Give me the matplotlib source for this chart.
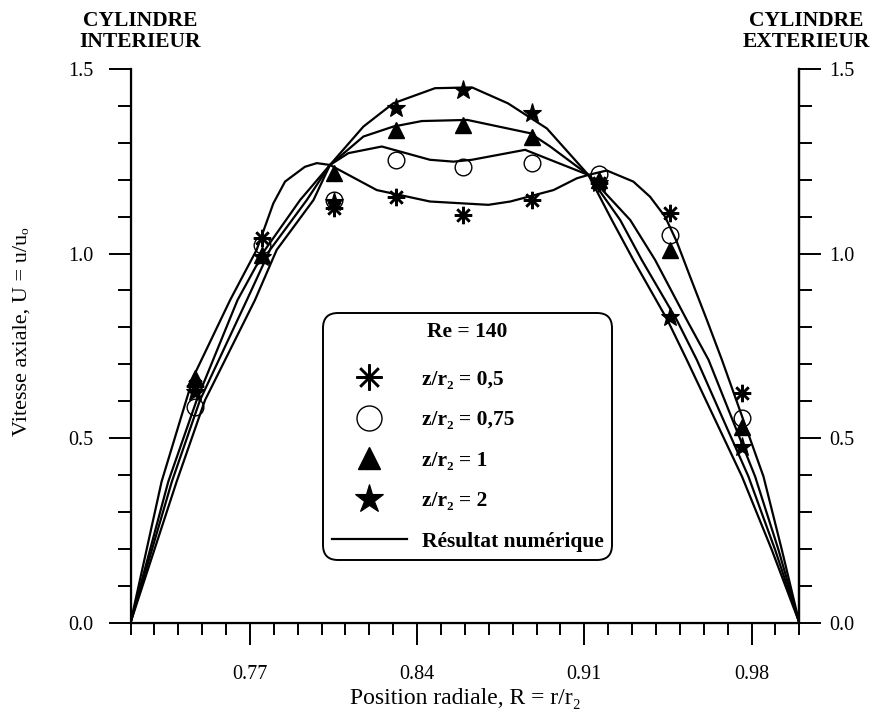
import numpy as np
import matplotlib
matplotlib.use("Agg")
import matplotlib.pyplot as plt
from matplotlib.ticker import FixedLocator, MultipleLocator, FormatStrFormatter
from matplotlib.lines import Line2D

plt.rcParams['font.family'] = ['Liberation Serif', 'DejaVu Serif', 'DejaVu Sans']

# Numerical axial velocity profiles (Re = 140)
r_num_05 = [0.720, 0.733, 0.7463, 0.7617, 0.7728, 0.7798, 0.7847, 0.793, 0.798, 0.8035,
            0.8231, 0.8454, 0.8698, 0.879, 0.8971, 0.9069, 0.9117, 0.9194, 0.9305, 0.9375,
            0.9438, 0.9487, 0.9543, 0.9613, 0.9676, 0.985, 0.9927, 1.0]
u_num_05 = [0.0, 0.382, 0.666, 0.874, 1.01, 1.136, 1.195, 1.235, 1.245, 1.240,
            1.172, 1.141, 1.132, 1.141, 1.172, 1.204, 1.213, 1.225, 1.195, 1.154,
            1.100, 1.032, 0.937, 0.820, 0.712, 0.396, 0.197, 0.0]

r_num_075 = [0.720, 0.7358, 0.7477, 0.7648, 0.7763, 0.791, 0.8035, 0.8112, 0.8252, 0.8454,
             0.8552, 0.8629, 0.8852, 0.8957, 0.9117, 0.9292, 0.9396, 0.9529, 0.962, 0.9815,
             0.9913, 1.0]
u_num_075 = [0.0, 0.382, 0.603, 0.874, 1.01, 1.145, 1.240, 1.272, 1.290, 1.254,
             1.249, 1.254, 1.281, 1.254, 1.213, 1.091, 0.983, 0.820, 0.712, 0.396,
             0.197, 0.0]

r_num_1 = [0.720, 0.7373, 0.7491, 0.7687, 0.7784, 0.7938, 0.8035, 0.8175, 0.830, 0.842,
           0.861, 0.8873, 0.8957, 0.9117, 0.925, 0.934, 0.9487, 0.9571, 0.9787, 0.9899, 1.0]
u_num_1 = [0.0, 0.382, 0.603, 0.874, 1.01, 1.145, 1.240, 1.317, 1.344, 1.359,
           1.362, 1.326, 1.290, 1.213, 1.091, 0.983, 0.820, 0.712, 0.396, 0.197, 0.0]

r_num_2 = [0.720, 0.7393, 0.7512, 0.7721, 0.7812, 0.7966, 0.8035, 0.8175, 0.830, 0.8475,
           0.863, 0.878, 0.8943, 0.9117, 0.9215, 0.9305, 0.9448, 0.9529, 0.976, 0.9885, 1.0]
u_num_2 = [0.0, 0.382, 0.603, 0.874, 1.01, 1.145, 1.240, 1.344, 1.407, 1.448,
           1.450, 1.407, 1.339, 1.213, 1.091, 0.983, 0.820, 0.712, 0.396, 0.197, 0.0]

# Measured profiles
r_exp = [0.747, 0.775, 0.805, 0.831, 0.859, 0.888, 0.916, 0.946, 0.976]
u_exp_05 = [0.640, 1.041, 1.123, 1.154, 1.105, 1.145, 1.190, 1.109, 0.621]
u_exp_075 = [0.585, 1.023, 1.145, 1.254, 1.235, 1.245, 1.215, 1.050, 0.554]
u_exp_1 = [0.662, 0.996, 1.217, 1.335, 1.348, 1.317, 1.200, 1.010, 0.531]
u_exp_2 = [0.625, 0.990, 1.140, 1.394, 1.443, 1.380, 1.190, 0.829, 0.477]

x_major = [0.77, 0.84, 0.91, 0.98]
y_major = [0.0, 0.5, 1.0, 1.5]
series_labels = ['z/r₂ = 0,5', 'z/r₂ = 0,75', 'z/r₂ = 1', 'z/r₂ = 2']
line_label = 'Résultat numérique'
legend_title = 'Re = 140'

fig = plt.figure(figsize=(8.73, 7.09), dpi=100)
ax = fig.add_axes([0.1495, 0.1217, 0.7661, 0.7810])

for r, u in [(r_num_05, u_num_05), (r_num_075, u_num_075), (r_num_1, u_num_1), (r_num_2, u_num_2)]:
    ax.plot(r, u, color='black', lw=1.6, zorder=2)

asterisk = (8, 2, 0)
styles = [
    dict(marker=asterisk, ms=12.5, mew=1.8, color='black', mfc='black'),
    dict(marker='o', ms=12, mew=1.0, color='black', mfc='none'),
    dict(marker='^', ms=11, mew=1.0, color='black', mfc='black'),
    dict(marker='*', ms=14, mew=0.8, color='black', mfc='black'),
]
for u, st in zip([u_exp_05, u_exp_075, u_exp_1, u_exp_2], styles):
    ax.plot(r_exp, u, ls='none', zorder=3, **st)

ax.set_xlim(0.72, 1.0)
ax.set_ylim(0.0, 1.5)
ax.spines['top'].set_visible(False)
for s in ['left', 'right', 'bottom']:
    ax.spines[s].set_linewidth(1.6)

ax.xaxis.set_major_locator(FixedLocator(x_major))
ax.xaxis.set_minor_locator(FixedLocator(np.round(np.arange(0.72, 1.0001, 0.01), 2)))
ax.xaxis.set_major_formatter(FormatStrFormatter('%.2f'))

ax.tick_params(axis='x', which='major', direction='out', length=15.5, width=1.4,
               labelsize=14.5, pad=15)
ax.tick_params(axis='x', which='minor', direction='out', length=8.6, width=1.4)

# Left and right value scales share the same range
ax_r = ax.twinx()
ax_r.set_ylim(0.0, 1.5)
ax_r.spines['top'].set_visible(False)
ax_r.spines['right'].set_linewidth(1.6)
for a, side_pad in [(ax, 11), (ax_r, 6)]:
    a.yaxis.set_major_locator(FixedLocator(y_major))
    a.yaxis.set_minor_locator(MultipleLocator(0.1))
    a.yaxis.set_major_formatter(FormatStrFormatter('%.1f'))
    a.tick_params(axis='y', which='major', direction='out', length=15.5, width=1.4,
                  labelsize=14.5, pad=side_pad)
    a.tick_params(axis='y', which='minor', direction='out', length=9.4, width=1.4)
ax.tick_params(axis='y', which='both', right=False)

ax.set_xlabel('Position radiale, R = r/r₂', fontsize=17, labelpad=3)
ax.set_ylabel('Vitesse axiale, U = u/uₒ', fontsize=16)
ax.yaxis.set_label_coords(-0.148, 0.525)

fig.text(140 / 873, 1 - 31.5 / 709, 'CYLINDRE\nINTERIEUR', ha='center', va='center',
         fontsize=15.5, fontweight='bold', linespacing=1.1)
fig.text(806 / 873, 1 - 31.5 / 709, 'CYLINDRE\nEXTERIEUR', ha='center', va='center',
         fontsize=15.5, fontweight='bold', linespacing=1.1)

handles = [Line2D([], [], ls='none', **st) for st in styles]
handles.append(Line2D([], [], color='black', lw=1.6))
leg = ax_r.legend(handles, series_labels + [line_label], title=legend_title,
                  loc='upper left', bbox_to_anchor=(0.288, 0.559, 0.432, 0.0), mode='expand',
                  prop=dict(weight='bold', size=15.5),
                  title_fontproperties=dict(weight='bold', size=15.5),
                  handlelength=3.5, handletextpad=0.7, borderpad=0.4, labelspacing=0.95,
                  markerscale=1.5, frameon=True, fancybox=True, framealpha=1.0,
                  edgecolor='black', borderaxespad=0)
leg.get_frame().set_linewidth(1.4)
leg.get_frame().set_boxstyle('round', pad=0, rounding_size=0.7)
# a little more room between the title and the first entry
leg._legend_box.sep = 20.0

fig.savefig('out.png', dpi=100)
